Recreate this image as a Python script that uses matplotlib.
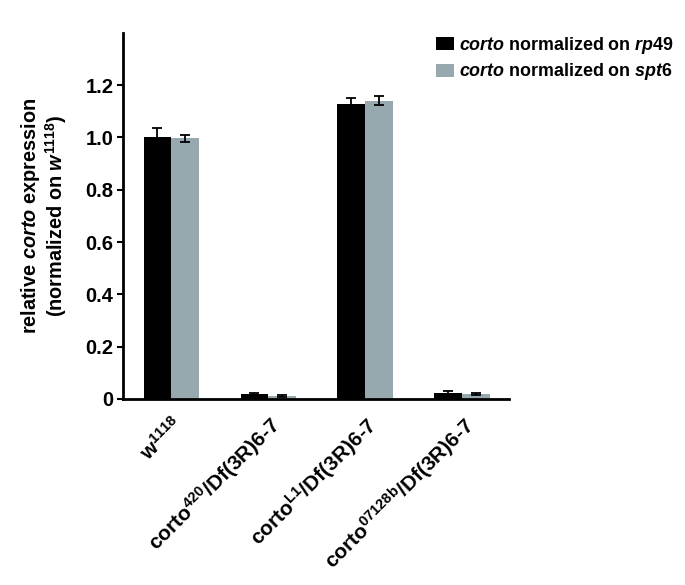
import matplotlib
matplotlib.use("Agg")
import matplotlib.pyplot as plt
import numpy as np
from matplotlib.patches import Patch

plt.rcParams['font.family'] = ['Liberation Sans', 'DejaVu Sans']
plt.rcParams['font.weight'] = 'bold'
plt.rcParams['mathtext.fontset'] = 'custom'
plt.rcParams['mathtext.rm'] = 'Liberation Sans:bold'
plt.rcParams['mathtext.it'] = 'Liberation Sans:bold:italic'
plt.rcParams['mathtext.bf'] = 'Liberation Sans:bold'

categories = [r'w$^{\mathrm{1118}}$',
              r'corto$^{\mathrm{420}}$/Df(3R)6-7',
              r'corto$^{\mathrm{L1}}$/Df(3R)6-7',
              r'corto$^{\mathrm{07128b}}$/Df(3R)6-7']
rp49_vals = [1.0, 0.018, 1.128, 0.021]
rp49_err = [0.035, 0.003, 0.022, 0.009]
spt6_vals = [0.997, 0.011, 1.14, 0.02]
spt6_err = [0.014, 0.005, 0.018, 0.003]
yticks = [0, 0.2, 0.4, 0.6, 0.8, 1.0, 1.2]
ytick_labels = ['0', '0.2', '0.4', '0.6', '0.8', '1.0', '1.2']
legend_labels = [r'$\mathit{corto}$ normalized on $\mathit{rp49}$',
                 r'$\mathit{corto}$ normalized on $\mathit{spt6}$']

black = '#000000'
gray = '#97a9af'

fig = plt.figure(figsize=(6.85, 5.85), dpi=100)
ax = fig.add_axes([0.18, 0.318, 0.563, 0.626])

x = np.arange(len(categories))
w = 0.285
ax.bar(x - w / 2, rp49_vals, w, color=black, yerr=rp49_err,
       error_kw=dict(ecolor='black', elinewidth=1.3, capsize=3.5, capthick=1.3))
ax.bar(x + w / 2, spt6_vals, w, color=gray, yerr=spt6_err,
       error_kw=dict(ecolor='black', elinewidth=1.3, capsize=3.5, capthick=1.3))

ax.set_xlim(-0.495, 3.485)
ax.set_ylim(0, 1.4)
ax.set_yticks(yticks)
ax.set_yticklabels(ytick_labels, fontsize=14.5, fontweight='bold')
ax.set_xticks(x)
ax.set_xticklabels(categories, rotation=45, ha='right', rotation_mode='anchor',
                   fontsize=15, fontweight='bold')
ax.tick_params(axis='x', length=0, pad=10)
ax.tick_params(axis='y', length=4, width=1.5, direction='out', pad=3)
for s in ['top', 'right']:
    ax.spines[s].set_visible(False)
for s in ['left', 'bottom']:
    ax.spines[s].set_linewidth(2)

ax.set_ylabel('relative $\\mathit{corto}$ expression\n(normalized on $\\mathit{w}^{\\mathit{1118}}$)',
              fontsize=14.3, fontweight='bold', labelpad=12, linespacing=1.05)

handles = [Patch(facecolor=black), Patch(facecolor=gray)]
fig.legend(handles, legend_labels, loc='upper left', bbox_to_anchor=(0.636, 0.94),
           frameon=False, borderpad=0, borderaxespad=0, handlelength=1.0, handleheight=0.75,
           handletextpad=0.3, labelspacing=0.3, prop={'weight': 'bold', 'size': 12.9})

fig.savefig('out.png', dpi=100)
